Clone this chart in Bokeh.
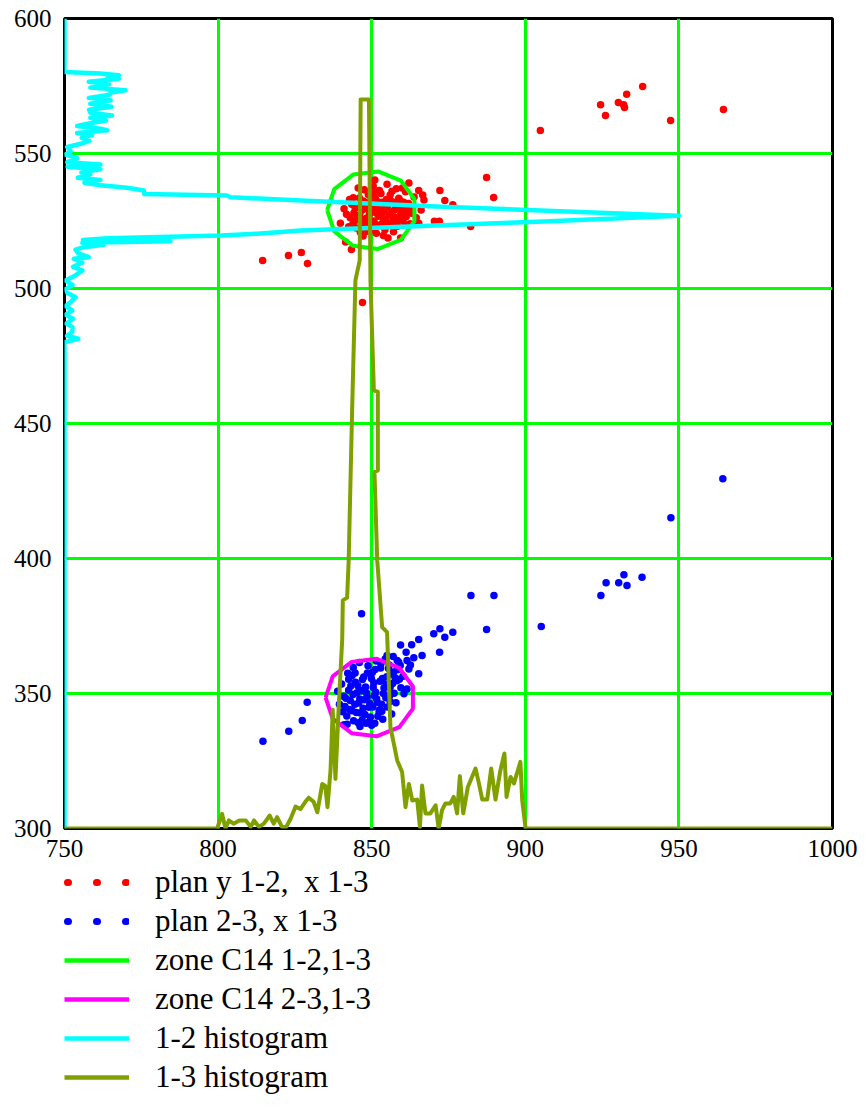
import numpy as np
from bokeh.plotting import figure
from bokeh.layouts import column
from bokeh.models import Legend, LegendItem, FixedTicker, Range1d
from bokeh.embed import file_html
from bokeh.resources import INLINE

# ---- axes ----
x_ticks = [750, 800, 850, 900, 950, 1000]
y_ticks = [300, 350, 400, 450, 500, 550, 600]

# ---- plan y 1-2, x 1-3 (red) ----
red_x = [904.9, 924.5, 926.1, 930.3, 932.0, 932.3, 933.0, 938.2, 947.3, 964.5,
         814.5, 822.9, 827.1, 829.1, 847.0, 887.4, 889.7, 882.2,
         851.0, 862.1, 852.5, 865.3, 872.2, 873.8, 867.0, 876.4, 866.1, 841.0,
         865.3, 870.4, 872.0, 841.5, 843.4, 855.3, 859.4, 839.8,
         843.5, 844.2, 844.8, 845.5, 846.1, 846.7, 847.3, 847.9, 848.4, 849.0,
         849.6, 850.1, 850.7, 851.2, 851.8, 852.3, 852.9, 853.4, 854.0, 854.5,
         855.1, 855.6, 856.2, 856.8, 857.3, 857.9, 858.4, 859.0, 859.5, 860.1,
         860.6, 861.2, 845.0, 846.3, 848.7, 851.5, 854.3, 857.1, 843.0, 842.5,
         844.0, 848.9, 853.0, 856.0, 858.8, 862.0, 863.0, 862.5, 847.6, 850.5,
         855.0, 858.0, 861.0,
         845.3, 846.8, 848.1, 849.3, 850.4, 851.0, 852.0, 853.1, 854.2, 855.4,
         856.5, 857.6, 858.7, 859.8, 860.9, 846.0, 848.5, 850.0, 852.6, 854.8,
         856.9, 859.2, 861.6, 844.6, 847.1, 849.8, 853.7, 857.5, 860.4, 843.9,
         846.6, 849.4, 851.6, 855.7, 858.2, 862.6, 863.8, 841.8, 842.8, 847.2,
         853.8, 856.6, 860.0, 850.9, 845.6, 864.5, 866.6]
red_y = [558.5, 568.1, 564.1, 568.9, 568.1, 567.0, 571.9, 574.8, 562.2, 566.3,
         510.4, 512.2, 513.3, 509.3, 494.8, 541.1, 533.7, 523.0,
         540.2, 539.1, 536.3, 536.3, 536.3, 532.6, 532.8, 531.0, 529.1, 529.5,
         524.2, 524.9, 524.9, 517.2, 514.4, 518.7, 518.7, 524.2,
         531.2, 528.0, 525.3, 530.1, 527.2, 523.9, 532.4, 529.6, 526.1, 522.8,
         531.0, 528.3, 525.0, 533.3, 529.7, 526.8, 523.6, 531.9, 528.6, 525.7,
         530.4, 527.5, 524.2, 532.1, 529.0, 526.3, 523.1, 530.8, 527.8, 525.1,
         529.4, 526.6, 522.4, 520.8, 521.2, 520.5, 521.8, 521.0, 526.2, 522.9,
         533.6, 534.8, 535.2, 534.6, 533.4, 531.5, 527.9, 524.0, 536.6, 537.9,
         538.6, 536.9, 535.8,
         526.0, 529.0, 531.8, 527.6, 530.6, 524.0, 532.0, 527.2, 530.0, 523.2,
         528.3, 531.5, 525.6, 528.6, 523.6, 533.5, 524.5, 521.8, 529.0, 533.0,
         526.0, 532.6, 528.1, 529.8, 525.6, 533.6, 524.6, 523.8, 531.9, 524.0,
         531.0, 529.4, 527.9, 532.5, 529.8, 529.8, 533.9, 527.5, 533.0, 519.4,
         519.6, 536.0, 537.2, 535.5, 537.2, 526.2, 534.6]

# ---- plan 2-3, x 1-3 (blue) ----
blue_x = [964.3, 947.4, 938.0, 932.1, 930.4, 933.1, 926.3, 924.6, 905.2, 882.3,
          889.8, 887.4, 876.4, 873.8, 872.2, 870.2, 872.1, 865.3, 859.4, 863.0,
          866.4, 863.7, 861.2, 855.0, 858.3, 865.3, 862.1, 860.5, 861.5, 829.0,
          827.4, 823.0, 814.6, 851.0, 852.6, 843.6, 846.7,
          840.2, 840.8, 841.3, 841.9, 842.5, 843.0, 843.6, 844.1, 844.7, 845.2,
          845.8, 846.3, 846.9, 847.4, 848.0, 848.5, 849.1, 849.6, 850.2, 850.7,
          851.3, 851.8, 852.4, 852.9, 853.5, 854.0, 854.6, 855.1, 855.7, 856.2,
          856.8, 857.3, 857.9, 858.4, 859.0, 859.5, 842.2, 844.0, 846.0, 848.8,
          851.5, 854.4, 857.0, 846.2, 848.2, 850.0, 853.6, 856.5, 838.9, 839.5,
          841.0,
          841.6, 842.8, 843.9, 845.0, 846.1, 847.2, 848.3, 849.4, 850.5, 851.6,
          852.7, 853.8, 854.9, 856.0, 857.1, 858.2, 859.3, 845.5, 847.0, 848.6,
          850.4, 852.0, 853.2, 855.8, 857.6, 860.2, 843.2, 844.5, 846.7, 849.9,
          851.1, 853.0, 855.5, 858.8, 861.5, 862.6, 840.5, 842.0, 845.6, 847.8,
          849.3, 853.3, 856.0, 842.5, 844.6, 847.6, 850.8, 854.7]
blue_y = [429.5, 415.1, 393.1, 394.0, 391.0, 390.0, 391.0, 386.3, 374.8, 386.3,
          386.3, 373.7, 372.7, 370.8, 374.0, 372.1, 365.3, 370.0, 368.0, 368.1,
          364.1, 363.2, 365.3, 364.1, 362.2, 357.3, 359.1, 349.9, 351.7, 346.8,
          340.0, 336.0, 332.3, 339.0, 344.0, 356.7, 379.5,
          353.5, 349.0, 345.2, 341.7, 351.2, 347.4, 343.6, 339.9, 354.2, 350.3,
          346.5, 342.8, 340.2, 356.1, 352.4, 348.6, 344.9, 341.3, 357.8, 354.0,
          350.5, 346.8, 343.2, 359.4, 355.6, 352.0, 348.4, 345.0, 360.6, 357.2,
          353.7, 350.1, 346.6, 358.8, 355.3, 352.1, 357.5, 359.6, 361.5, 360.3,
          362.0, 362.8, 363.7, 337.8, 339.0, 338.2, 340.5, 342.4, 350.8, 346.0,
          338.4,
          348.2, 344.1, 349.6, 343.0, 348.0, 344.5, 350.2, 346.3, 352.2, 348.1,
          354.5, 350.0, 356.2, 352.3, 358.0, 354.7, 360.4, 352.9, 355.2, 357.6,
          345.0, 341.6, 346.0, 349.2, 355.8, 356.4, 352.8, 346.0, 351.0, 355.6,
          358.9, 361.0, 359.3, 361.6, 362.2, 360.6, 343.2, 338.6, 339.2, 342.2,
          339.7, 343.4, 347.0, 355.3, 357.6, 347.7, 349.3, 353.4]

# ---- C14 zones (centre x, centre y, radius) ----
zone_cx = [850.0, 849.5]
zone_cy = [529.0, 348.5]
zone_r = [14.5, 14.5]

# ---- 1-2 histogram: bin (y) and count (drawn as x offset from 750) ----
h12_bin = [300, 480.1, 481.4, 482.5, 483.8, 485.7, 487.0, 488.8, 490.3, 491.9,
           493.5, 495.2, 496.8, 498.3, 499.7, 501.3, 503.0, 504.6, 506.7, 508.0,
           509.6, 511.0, 511.6, 513.0, 514.4, 515.3, 516.2, 516.9, 517.5, 518.0,
           518.6, 519.6, 520.3, 521.5, 524.8, 526.9, 530.4, 532.6, 533.8, 534.4,
           535.0, 536.3, 537.3, 538.2, 539.2, 540.2, 541.0, 542.2, 543.0, 544.2,
           545.1, 545.9, 546.8, 548.2, 549.6, 550.9, 552.4, 553.6, 554.7, 555.8,
           556.8, 557.6, 558.6, 559.2, 560.2, 561.3, 562.2, 563.2, 564.1, 565.1,
           566.2, 567.3, 568.4, 569.7, 570.6, 571.8, 572.6, 573.4, 574.4, 575.6,
           576.6, 577.7, 578.1, 579.0, 579.6, 580.2, 600]
h12_cnt = [0, 0, 4.5, 0.8, 2.5, 2.6, 0.6, 2.8, 0.4, 2.5,
           0.4, 2.2, 3.6, 1.0, 0.3, 2.6, 0.3, 3.2, 5.8, 2.8,
           5.8, 3.0, 7.9, 4.5, 3.6, 6.3, 12.8, 5.8, 34.5, 6.0,
           14.0, 51.0, 62.7, 77.0, 156.0, 200.0, 121.0, 77.0, 54.0, 53.0,
           26.0, 25.8, 20.4, 11.7, 6.5, 11.7, 4.3, 8.3, 5.5, 11.7,
           1.0, 11.7, 0.9, 4.2, 0.3, 2.0, 0.9, 5.3, 8.1, 5.6,
           9.0, 4.1, 13.9, 11.7, 4.1, 8.8, 13.5, 8.4, 15.5, 8.4,
           8.0, 15.3, 8.4, 15.0, 7.9, 14.8, 15.0, 19.9, 8.4, 14.6,
           7.9, 17.7, 14.0, 17.7, 11.7, 0, 0]

# ---- 1-3 histogram: bin (x) and count (drawn as y offset from 300) ----
h13_bin = [750, 799.7, 801.3, 802.4, 803.5, 805.0, 806.9, 809.0, 810.6, 811.7,
           813.3, 814.9, 816.8, 818.1, 819.2, 820.8, 822.2, 823.6, 825.2, 826.8,
           828.4, 829.5, 831.1, 832.3, 833.9, 834.9, 835.6, 836.6, 837.3, 838.2,
           839.3, 840.4, 840.6, 842.0, 842.5, 843.6, 844.7, 846.1, 846.4, 849.1,
           849.6, 850.7, 852.0, 852.0, 850.9, 851.8, 853.4, 855.0, 856.1, 857.2,
           858.3, 859.9, 861.0, 862.1, 863.2, 864.8, 865.7, 866.4, 867.5, 869.1,
           870.8, 871.8, 872.9, 874.0, 875.6, 876.7, 877.8, 878.7, 879.8, 881.3,
           883.8, 884.9, 886.0, 887.6, 888.9, 890.3, 891.9, 893.2, 893.9, 895.2,
           896.3, 897.6, 898.4, 899.0, 900.1, 1000]
h13_cnt = [0, 0, 5.4, 0, 3.0, 1.8, 3.0, 3.0, 0.6, 3.0,
           0.6, 1.8, 4.8, 1.8, 4.2, 0.6, 0.6, 3.6, 8.1, 7.2,
           9.9, 11.4, 9.9, 6.0, 16.5, 15.8, 7.9, 21.5, 44.0, 18.4,
           46.0, 70.0, 84.5, 85.5, 99.0, 153.7, 203.0, 210.4, 270.0, 270.0,
           203.0, 162.2, 161.8, 132.6, 132.0, 99.3, 74.6, 72.7, 37.5, 31.4,
           25.2, 20.9, 7.9, 16.5, 10.4, 10.7, 0.5, 15.9, 5.6, 5.6,
           8.6, 0.0, 6.8, 9.3, 9.3, 11.7, 5.6, 19.4, 5.6, 15.4,
           22.2, 16.7, 10.7, 10.7, 22.2, 10.7, 21.6, 27.8, 11.7, 19.1,
           16.7, 21.6, 24.7, 10.4, 0.0, 0]

labels = ["plan y 1-2,  x 1-3", "plan 2-3, x 1-3", "zone C14 1-2,1-3",
          "zone C14 2-3,1-3", "1-2 histogram", "1-3 histogram"]

RED, BLUE, GREEN, MAGENTA, CYAN, OLIVE = ("#ff0000", "#0000ff", "#00ff00",
                                          "#ff00ff", "#00ffff", "#80a000")
SERIF = "'Liberation Serif', 'Times New Roman', serif"

x0, x1 = x_ticks[0], x_ticks[-1]
y0, y1 = y_ticks[0], y_ticks[-1]

# zone outlines as polygons round each centre
ang = np.deg2rad(180 + np.arange(12) * 360 / 11)
zone_xs = [cx + r * np.cos(ang) for cx, r in zip(zone_cx, zone_r)]
zone_ys = [cy + r * np.sin(ang) for cy, r in zip(zone_cy, zone_r)]
h12_x = [x0 + c for c in h12_cnt]
h13_y = [y0 + c for c in h13_cnt]

# (x, y, style) of each series, shared by the chart and its key
dots = dict(line_width=7, line_dash="1 28", line_dash_offset=26, line_cap="round")
series = [
    (red_x, red_y, dict(line_color=RED, **dots)),
    (blue_x, blue_y, dict(line_color=BLUE, **dots)),
    (zone_xs[0], zone_ys[0], dict(line_color=GREEN, line_width=4.5)),
    (zone_xs[1], zone_ys[1], dict(line_color=MAGENTA, line_width=4.5)),
    (h12_x, h12_bin, dict(line_color=CYAN, line_width=4.5)),
    (h13_bin, h13_y, dict(line_color=OLIVE, line_width=4.5)),
]

# ---------------- main chart ----------------
p = figure(width=867, height=862,
           x_range=Range1d(x0, x1), y_range=Range1d(y0, y1),
           output_backend="svg", toolbar_location=None,
           min_border_left=64, min_border_right=35, min_border_top=18,
           min_border_bottom=34)
p.background_fill_color = "white"
p.border_fill_color = "white"
p.outline_line_color = "black"
p.outline_line_width = 3

for ax, ticks in ((p.xaxis, x_ticks), (p.yaxis, y_ticks)):
    ax.ticker = FixedTicker(ticks=ticks)
    ax.axis_line_color = None
    ax.major_tick_line_color = None
    ax.minor_tick_line_color = None
    ax.major_label_text_font = SERIF
    ax.major_label_text_font_size = "25px"
    ax.major_label_text_color = "black"
p.xaxis.major_label_standoff = 5
p.yaxis.major_label_standoff = 7

p.grid.grid_line_color = GREEN
p.grid.grid_line_width = 3
p.grid.grid_line_alpha = 1.0

p.scatter(red_x, red_y, size=7.5, color=RED, line_width=0)
p.scatter(blue_x, blue_y, size=7.5, color=BLUE, line_width=0)
for i in (2, 3):
    xs, ys, sty = series[i]
    p.line(xs, ys, line_color=sty["line_color"], line_width=4, line_join="round")
p.line(h12_x, h12_bin, line_color=CYAN, line_width=4.5, line_join="round")
p.line(h13_bin, h13_y, line_color=OLIVE, line_width=4, line_join="round")

# ---------------- key below the chart ----------------
# the key panel views a window far from the data, so only its swatches show
lg = figure(width=867, height=244, x_range=Range1d(0, 1), y_range=Range1d(0, 1),
            output_backend="svg", toolbar_location=None,
            x_axis_type=None, y_axis_type=None,
            min_border_left=62, min_border_right=0, min_border_top=0,
            min_border_bottom=0)
lg.outline_line_color = None
lg.grid.visible = False
lg.background_fill_color = "white"
lg.border_fill_color = "white"

items = []
for lab, (xs, ys, sty) in zip(labels, series):
    r = lg.line(xs, ys, **sty)
    items.append(LegendItem(label=lab, renderers=[r]))

legend = Legend(items=items, location="top_left", orientation="vertical",
                padding=0, margin=0, spacing=0,
                glyph_width=65, glyph_height=18, label_height=39,
                label_standoff=26, label_text_font=SERIF,
                label_text_font_size="31px", label_text_color="black",
                border_line_alpha=0, background_fill_alpha=0)
lg.add_layout(legend)

open("out.html", "w").write(file_html(column(p, lg, spacing=0), INLINE))
